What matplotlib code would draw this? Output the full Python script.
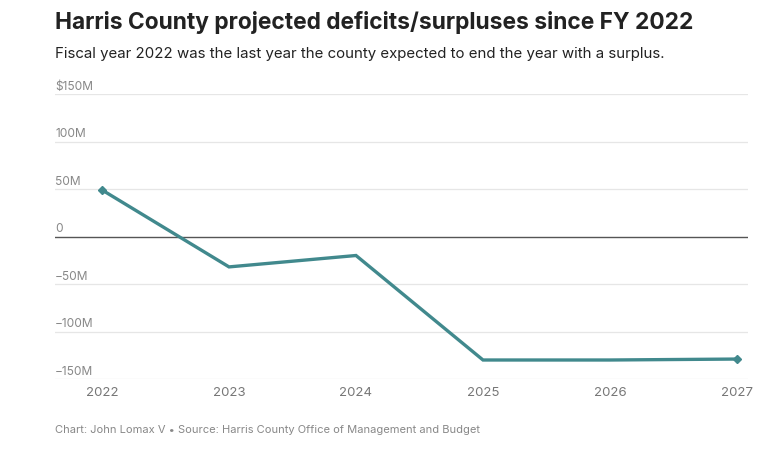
import matplotlib
matplotlib.use("Agg")
import matplotlib.pyplot as plt
import matplotlib.transforms as mtransforms

years = [2022, 2023, 2024, 2025, 2026, 2027]
balance_m = [49, -32, -20, -130, -130, -129]
ytick_vals = [150, 100, 50, 0, -50, -100, -150]
ytick_labels = ["$150M", "100M", "50M", "0", "\u221250M", "\u2212100M", "\u2212150M"]

W, H = 768, 453
fig = plt.figure(figsize=(W / 100, H / 100), dpi=100)
fig.patch.set_facecolor("white")

left, right, top, bottom = 55, 748, 94, 379
ax = fig.add_axes([left / W, 1 - bottom / H, (right - left) / W, (bottom - top) / H])
ax.set_facecolor("white")
for s in ax.spines.values():
    s.set_visible(False)

ax.set_ylim(-150, 150)
ax.set_xlim(2022 - 47 / 127, 2027 + 11 / 127)

for v in ytick_vals:
    if v == 0:
        ax.axhline(v, color="#555555", lw=1.0, zorder=1)
    else:
        ax.axhline(v, color="#e6e6e6", lw=0.9, zorder=0)

trans = mtransforms.blended_transform_factory(ax.transAxes, ax.transData)
for v, lab in zip(ytick_vals, ytick_labels):
    ax.annotate(lab, xy=(0, v), xycoords=trans, xytext=(0, 0.8), textcoords="offset points",
                ha="left", va="bottom", fontsize=8.6, color="#888888", family="Inter")

color = "#41898d"
ax.plot(years, balance_m, color=color, lw=2.4, solid_joinstyle="miter", zorder=3)
ax.plot([years[0], years[-1]], [balance_m[0], balance_m[-1]], linestyle="none",
        marker="D", markersize=4, color=color, zorder=4)

ax.set_yticks([])
ax.set_xticks(years)
ax.set_xticklabels([str(y) for y in years], fontsize=9.5, color="#777777", family="Inter")
ax.tick_params(axis="x", length=0, pad=6)

fig.text(55 / W, 1 - 22 / H, "Harris County projected deficits/surpluses since FY 2022",
         fontsize=16.4, fontweight="bold", color="#222222", family="Inter", va="center", ha="left")
fig.text(55 / W, 1 - 54 / H, "Fiscal year 2022 was the last year the county expected to end the year with a surplus.",
         fontsize=10.8, color="#222222", family="Inter", va="center", ha="left")
fig.text(55 / W, 1 - 430 / H, "Chart: John Lomax V \u2022 Source: Harris County Office of Management and Budget",
         fontsize=8, color="#888888", family="Inter", va="center", ha="left")

fig.savefig("out.png", dpi=100)
